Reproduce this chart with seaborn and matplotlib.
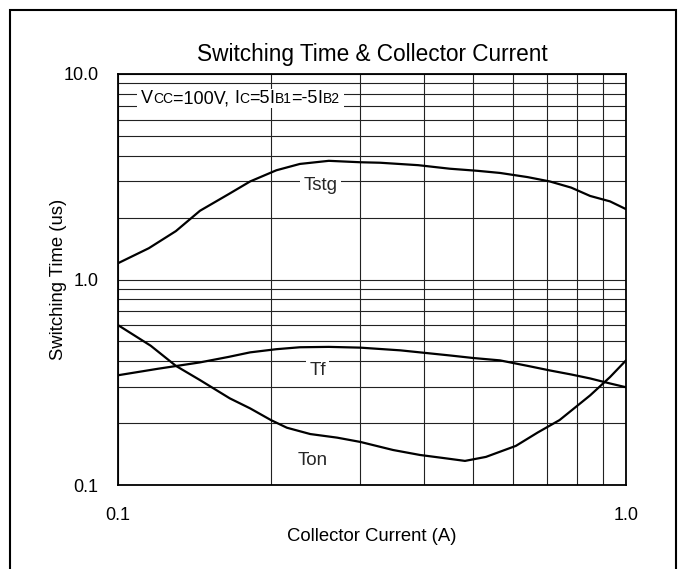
import matplotlib
matplotlib.use("Agg")
import matplotlib.pyplot as plt
import seaborn as sns
import pandas as pd
import numpy as np
from matplotlib.ticker import LogLocator, FixedLocator, FixedFormatter, NullFormatter
from matplotlib.patches import Rectangle

# ---- data ----
tstg_x = [0.10, 0.115, 0.13, 0.145, 0.165, 0.182, 0.205, 0.228, 0.26, 0.30, 0.328, 0.39, 0.45, 0.51, 0.565, 0.64, 0.708, 0.78, 0.85, 0.93, 1.0]
tstg_y = [1.20, 1.42, 1.72, 2.16, 2.60, 3.00, 3.40, 3.65, 3.78, 3.72, 3.70, 3.60, 3.46, 3.38, 3.30, 3.15, 3.00, 2.80, 2.55, 2.40, 2.20]

tf_x = [0.10, 0.12, 0.145, 0.165, 0.182, 0.205, 0.228, 0.26, 0.30, 0.36, 0.40, 0.45, 0.50, 0.565, 0.64, 0.708, 0.78, 0.85, 0.93, 1.0]
tf_y = [0.342, 0.368, 0.395, 0.420, 0.442, 0.458, 0.468, 0.470, 0.466, 0.452, 0.440, 0.427, 0.415, 0.404, 0.380, 0.361, 0.345, 0.330, 0.312, 0.299]

ton_x = [0.10, 0.116, 0.13, 0.145, 0.166, 0.182, 0.20, 0.215, 0.239, 0.27, 0.30, 0.348, 0.393, 0.44, 0.482, 0.53, 0.607, 0.67, 0.74, 0.85, 0.93, 1.0]
ton_y = [0.60, 0.476, 0.38, 0.324, 0.264, 0.236, 0.207, 0.190, 0.177, 0.170, 0.162, 0.148, 0.140, 0.135, 0.131, 0.137, 0.155, 0.180, 0.207, 0.273, 0.335, 0.404]

x_ticks = [0.1, 1.0]
x_tick_labels = ["0.1", "1.0"]
y_ticks = [0.1, 1.0, 10.0]
y_tick_labels = ["0.1", "1.0", "10.0"]

title = "Switching Time & Collector Current"
x_label = "Collector Current (A)"
y_label = "Switching Time (us)"

# ---- style ----
sns.set_theme(style="white")
plt.rcParams['font.family'] = ['Liberation Sans', 'DejaVu Sans']

W, H = 684, 569
fig = plt.figure(figsize=(W / 100, H / 100), dpi=100)
ax = fig.add_axes([118 / W, 1 - 485 / H, (626 - 118) / W, (485 - 74) / H])

for xs, ys in [(tstg_x, tstg_y), (tf_x, tf_y), (ton_x, ton_y)]:
    df = pd.DataFrame({"x": xs, "y": ys})
    sns.lineplot(data=df, x="x", y="y", ax=ax, color="black", linewidth=1.6,
                 estimator=None, sort=False, zorder=5)

ax.set_xscale("log")
ax.set_yscale("log")
ax.set_xlim(0.1, 1.0)
ax.set_ylim(0.1, 10.0)

ax.xaxis.set_major_locator(FixedLocator(x_ticks))
ax.xaxis.set_major_formatter(FixedFormatter(x_tick_labels))
ax.yaxis.set_major_locator(FixedLocator(y_ticks))
ax.yaxis.set_major_formatter(FixedFormatter(y_tick_labels))
ax.xaxis.set_minor_locator(LogLocator(base=10, subs=np.arange(2, 10)))
ax.yaxis.set_minor_locator(LogLocator(base=10, subs=np.arange(2, 10)))
ax.xaxis.set_minor_formatter(NullFormatter())
ax.yaxis.set_minor_formatter(NullFormatter())
ax.tick_params(which="both", length=0, labelsize=13, colors="black")
ax.tick_params(axis="x", pad=16)
ax.tick_params(axis="y", pad=14)

ax.grid(which="both", color="#222222", linewidth=0.8)
ax.set_axisbelow(True)
for s in ax.spines.values():
    s.set_color("black")
    s.set_linewidth(1.3)
    s.set_visible(True)

ax.set_xlabel(x_label, fontsize=13.3, color="black", labelpad=3)
ax.set_ylabel(y_label, fontsize=13.3, color="black")
ax.yaxis.set_label_coords((67 - 118) / 508, 0.5)
ax.set_title(title, fontsize=16.3, color="black", pad=9)

# curve labels
box = dict(facecolor="white", edgecolor="none", pad=2.5)
ax.text(0.25, 2.86, "Tstg", fontsize=13.5, ha="center", va="center", bbox=box, zorder=4)
ax.text(0.247, 0.362, "Tf", fontsize=13.5, ha="center", va="center", bbox=box, zorder=4)
ax.text(0.242, 0.132, "Ton", fontsize=13.5, ha="center", va="center", bbox=box, zorder=4)

# condition annotation with small-letter parts
pieces = [("V", 13), ("CC", 10), ("=100V, ", 13), ("I", 13), ("C", 10), ("=5", 13),
          ("I", 13), ("B1", 10), ("=-5", 13), ("I", 13), ("B2", 10)]
fig.canvas.draw()
renderer = fig.canvas.get_renderer()
x0_px = 141.0
y_base_px = H - 103.0  # baseline in display coords
cur = x0_px
for s, fs in pieces:
    t = fig.text(cur / W, y_base_px / H, s, fontsize=fs, ha="left", va="baseline",
                 color="black", zorder=6)
    bb = t.get_window_extent(renderer)
    cur = bb.x1
pad = 4
rect = Rectangle(((x0_px - pad) / W, (y_base_px - 5) / H), (cur - x0_px + 2 * pad) / W, 19 / H,
                 transform=fig.transFigure, facecolor="white", edgecolor="none", zorder=3)
fig.add_artist(rect)

# outer border (bottom edge lies beyond the image)
border = Rectangle((10 / W, -10 / H), (676 - 10) / W, (559 + 10) / H, transform=fig.transFigure,
                   fill=False, edgecolor="black", linewidth=1.5)
fig.add_artist(border)

fig.savefig("out.png", dpi=100)
